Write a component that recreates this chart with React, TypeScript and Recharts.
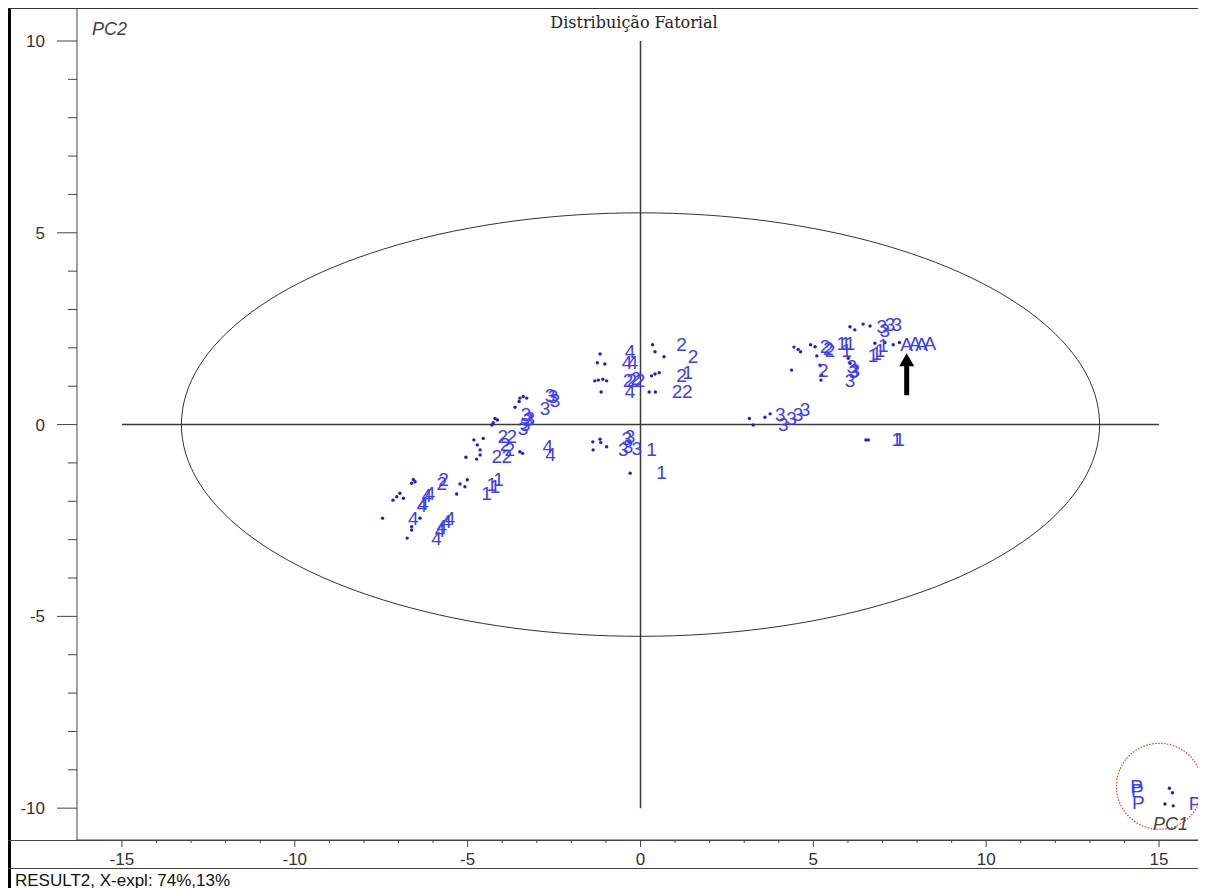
import { ScatterChart, Scatter, XAxis, YAxis, ReferenceLine, ReferenceDot } from "recharts";

type P = [number, number];

// sample scores without a label (small dots)
const dots: P[] = [
  [0.35, 2.08], [0.42, 1.9], [0.68, 1.77], [0.32, 1.27], [0.42, 1.32], [0.54, 1.35], [0.25, 0.85], [0.43, 0.85],
  [-1.17, 1.84], [-1.25, 1.61], [-1.03, 1.58], [-1.32, 1.14], [-1.22, 1.16], [-1.09, 1.18], [-0.98, 1.14], [-1.14, 0.85],
  [-1.38, -0.45], [-1.17, -0.38], [-1.37, -0.66], [-1.15, -0.47], [-0.98, -0.58], [-0.3, -1.27],
  [-3.49, 0.69], [-3.39, 0.73], [-3.29, 0.69], [-3.63, 0.45], [-3.51, 0.6],
  [-4.21, 0.16], [-4.14, 0.12], [-4.26, 0.05], [-4.3, -0.01],
  [-4.82, -0.4], [-4.55, -0.36], [-4.72, -0.53], [-4.64, -0.66], [-5.05, -0.85], [-4.74, -0.9], [-4.64, -0.79],
  [-3.49, -0.71], [-3.41, -0.75],
  [-6.62, -1.53], [-6.52, -1.49], [-6.57, -1.43], [-7.16, -1.97], [-7.05, -1.88], [-6.96, -1.79], [-6.86, -1.92],
  [-7.46, -2.44], [-6.38, -2.44], [-6.62, -2.66], [-6.62, -2.75], [-6.75, -2.96],
  [-5.22, -1.55], [-5.01, -1.44], [-5.08, -1.62], [-5.32, -1.81],
  [3.15, 0.16], [3.26, -0.01], [3.6, 0.19], [3.75, 0.28], [6.52, -0.4], [6.59, -0.4],
  [4.44, 2.02], [4.56, 1.96], [4.63, 1.9], [4.92, 2.08], [5.05, 2.03], [5.1, 1.79], [4.37, 1.42],
  [5.19, 1.55], [5.24, 1.29], [5.22, 1.16], [6.01, 1.73], [6.06, 1.6],
  [6.06, 2.55], [6.2, 2.47], [6.44, 2.62], [6.64, 2.57],
  [6.78, 2.12], [7.07, 2.14], [7.31, 2.08], [7.49, 2.14],
  [15.3, -9.48], [15.39, -9.6], [15.17, -9.89], [15.41, -9.94],
];

const categories = ["1", "2", "3", "4", "A", "P"];

const samples1: P[] = [
  [1.37, 1.35], [0.32, -0.66], [0.61, -1.25], [-4.45, -1.79], [-4.3, -1.57], [-4.21, -1.62], [-4.11, -1.44],
  [7.41, -0.4], [7.49, -0.4], [5.82, 2.12], [5.94, 2.12], [6.06, 2.12], [5.96, 1.94],
  [6.73, 1.81], [6.83, 1.86], [6.93, 1.94], [7.02, 2.05],
];
const samples2: P[] = [
  [1.19, 2.08], [1.52, 1.77], [1.19, 1.27], [1.06, 0.85], [1.35, 0.85],
  [-0.36, 1.16], [-0.25, 1.14], [-0.13, 1.19], [-0.01, 1.16],
  [-3.98, -0.32], [-3.72, -0.32], [-3.92, -0.53], [-3.78, -0.66], [-4.16, -0.84], [-3.87, -0.84],
  [-5.7, -1.44], [-5.75, -1.53],
  [5.34, 2.03], [5.43, 1.99], [5.48, 1.94], [5.29, 1.42],
];
const samples3: P[] = [
  [-0.4, -0.35], [-0.3, -0.32], [-0.5, -0.66], [-0.36, -0.58], [-0.11, -0.62],
  [-2.62, 0.77], [-2.53, 0.72], [-2.76, 0.42], [-2.47, 0.64],
  [-3.31, 0.25], [-3.25, 0.12], [-3.34, -0.01], [-3.2, 0.17], [-3.4, -0.09],
  [4.04, 0.25], [4.13, -0.01], [4.37, 0.16], [4.56, 0.25], [4.76, 0.38],
  [6.11, 1.51], [6.2, 1.42], [6.06, 1.16], [6.16, 1.38],
  [6.98, 2.55], [7.07, 2.45], [7.22, 2.62], [7.41, 2.62],
];
const samples4: P[] = [
  [-0.3, 1.9], [-0.22, 1.61], [-0.39, 1.63], [-0.3, 0.86],
  [-2.68, -0.56], [-2.6, -0.77],
  [-6.18, -1.84], [-6.09, -1.79], [-6.28, -2.05], [-6.33, -2.1], [-6.57, -2.44],
  [-5.51, -2.44], [-5.61, -2.53], [-5.75, -2.66], [-5.9, -2.96], [-5.8, -2.75],
];
const samplesA: P[] = [[7.7, 2.08], [7.94, 2.12], [8.13, 2.08], [8.37, 2.12]];
const samplesP: P[] = [[14.35, -9.44], [14.37, -9.53], [14.4, -9.86], [16.04, -9.87]];

const labelGroups: P[][] = [samples1, samples2, samples3, samples4, samplesA, samplesP];

const xTicks = [-15, -14, -13, -12, -11, -10, -9, -8, -7, -6, -5, -4, -3, -2, -1, 0, 1, 2, 3, 4, 5, 6, 7, 8, 9, 10, 11, 12, 13, 14, 15];
const yTicks = [-10, -9, -8, -7, -6, -5, -4, -3, -2, -1, 0, 1, 2, 3, 4, 5, 6, 7, 8, 9, 10];

// confidence ellipse semi-axes
const ellipseA = 13.28;
const ellipseB = 5.52;
const ellipse = Array.from({ length: 181 }, (_, i) => {
  const t = (i / 180) * Math.PI * 2;
  return { x: ellipseA * Math.cos(t), y: ellipseB * Math.sin(t) };
});

const arrowTip = [{ x: 7.7, y: 1.86 }];
const circleCenter = { x: 15.01, y: -9.43 };

const toObj = (arr: P[]) => arr.map(([x, y]) => ({ x, y }));

const sans = "'Liberation Sans', Arial, sans-serif";

function YTick(props: any) {
  const { x, y, payload } = props;
  const major = payload.value % 5 === 0;
  return (
    <g>
      <line x1={x - (major ? 20 : 9)} x2={x} y1={y} y2={y} stroke="#444" />
      {major && (
        <text x={x - 32} y={y + 6} textAnchor="end" fontFamily={sans} fontSize={17} fill="#333">
          {payload.value}
        </text>
      )}
    </g>
  );
}

function XTick(props: any) {
  const { x, y, payload } = props;
  const major = payload.value % 5 === 0;
  return (
    <g>
      <line x1={x} x2={x} y1={y} y2={y + (major ? 7 : 3)} stroke="#444" />
      {major && (
        <text x={x} y={y + 25} textAnchor="middle" fontFamily={sans} fontSize={17} fill="#333">
          {payload.value}
        </text>
      )}
    </g>
  );
}

const labelShape = (t: string) => (props: any) => (
  <text
    x={props.cx}
    y={props.cy}
    textAnchor="middle"
    dominantBaseline="central"
    fontFamily={sans}
    fontSize={19}
    fill="#3c3cff"
  >
    {t}
  </text>
);

const dotShape = (props: any) => <circle cx={props.cx} cy={props.cy} r={1.7} fill="#1c1ce0" />;

const arrowShape = (props: any) => {
  const { cx, cy } = props;
  return (
    <g>
      <path d={`M${cx},${cy} L${cx - 7.5},${cy + 13} L${cx + 7.5},${cy + 13} Z`} fill="#000" />
      <rect x={cx - 2.5} y={cy + 12} width={5} height={30} fill="#000" />
    </g>
  );
};

export default function App() {
  return (
    <div style={{ position: "relative", width: 1198, height: 880 }}>
      <ScatterChart width={1198} height={880} margin={{ top: 0, right: 2, bottom: 0, left: 0 }}>
        <XAxis
          type="number"
          dataKey="x"
          domain={[-16.3, 16.3]}
          ticks={xTicks}
          interval={0}
          tick={<XTick />}
          tickLine={false}
          tickSize={0}
          tickMargin={0}
          height={48}
          axisLine={{ stroke: "#444" }}
          allowDataOverflow
        />
        <YAxis
          type="number"
          dataKey="y"
          domain={[-10.83, 10.86]}
          ticks={yTicks}
          interval={0}
          tick={<YTick />}
          tickLine={false}
          tickSize={0}
          tickMargin={0}
          width={69}
          axisLine={{ stroke: "#444" }}
          allowDataOverflow
        />
        <ReferenceLine segment={[{ x: -15, y: 0 }, { x: 15, y: 0 }]} stroke="#3a3a3a" strokeWidth={1.5} />
        <ReferenceLine segment={[{ x: 0, y: -10 }, { x: 0, y: 10 }]} stroke="#3a3a3a" strokeWidth={1.5} />
        <Scatter
          data={ellipse}
          line={{ stroke: "#333", strokeWidth: 1 }}
          shape={() => <g />}
          isAnimationActive={false}
        />
        <Scatter data={toObj(dots)} shape={dotShape} isAnimationActive={false} />
        {labelGroups.map((g, i) => (
          <Scatter key={categories[i]} name={categories[i]} data={toObj(g)} shape={labelShape(categories[i])} isAnimationActive={false} />
        ))}
        <Scatter data={arrowTip} shape={arrowShape} isAnimationActive={false} />
        <ReferenceDot
          x={circleCenter.x}
          y={circleCenter.y}
          r={43}
          fill="none"
          stroke="#e8401e"
          strokeWidth={1.2}
          strokeDasharray="1.5 1.5"
        />
      </ScatterChart>

      {/* frame */}
      <div style={{ position: "absolute", left: 0, top: 0, width: 3, height: 880, background: "#000" }} />
      <div style={{ position: "absolute", left: 0, top: 0, width: 1198, height: 1, background: "#333" }} />
      <div style={{ position: "absolute", left: 1196, top: 0, width: 1, height: 861, background: "#333" }} />
      <div style={{ position: "absolute", left: 0, top: 832, width: 1198, height: 1, background: "#444" }} />
      <div style={{ position: "absolute", left: 0, top: 860, width: 1198, height: 1, background: "#444" }} />

      <div style={{ position: "absolute", left: 476, top: 7, width: 300, textAlign: "center", fontFamily: "'DejaVu Serif', serif", fontSize: 16, lineHeight: "16px", color: "#222", whiteSpace: "nowrap" }}>
        Distribuição Fatorial
      </div>
      <div style={{ position: "absolute", left: 84, top: 12, fontFamily: sans, fontStyle: "italic", fontSize: 18, lineHeight: "18px", color: "#444" }}>
        PC2
      </div>
      <div style={{ position: "absolute", left: 1145, top: 807, fontFamily: sans, fontStyle: "italic", fontSize: 18, lineHeight: "18px", color: "#444" }}>
        PC1
      </div>
      <div style={{ position: "absolute", left: 7, top: 864, fontFamily: sans, fontSize: 17, lineHeight: "17px", color: "#111", whiteSpace: "nowrap" }}>
        RESULT2, X-expl: 74%,13%
      </div>
    </div>
  );
}
